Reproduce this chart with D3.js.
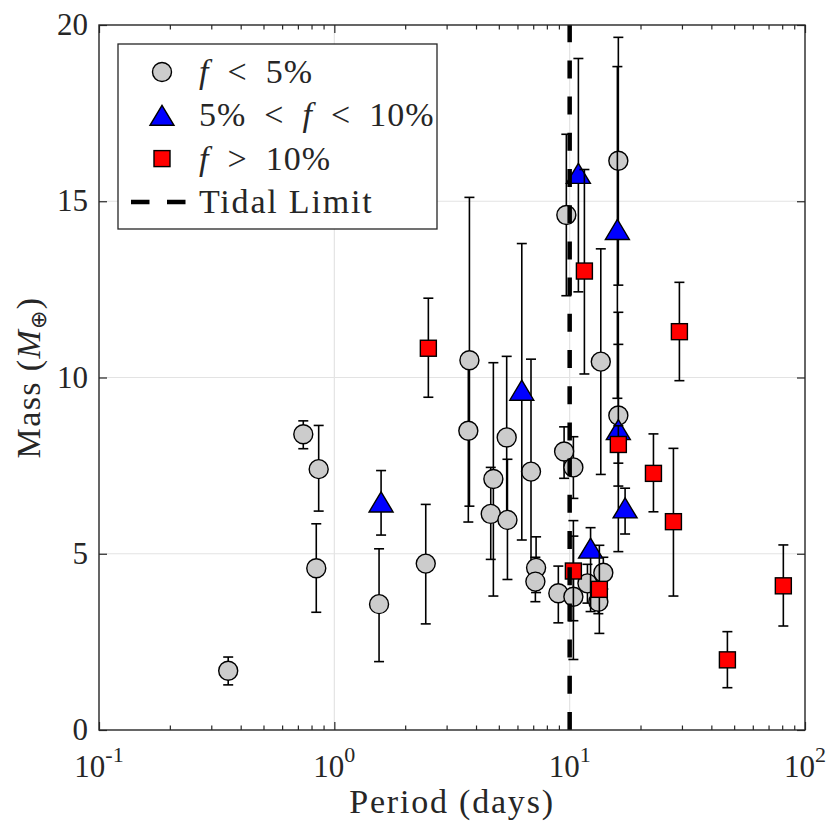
<!DOCTYPE html>
<html lang="en">
<head>
    <meta charset="UTF-8">
    <title>Mass vs Period</title>
    <script src="https://cdn.jsdelivr.net/npm/d3@7"></script>
    <style>
      body { margin: 0; background: #fff; }
    </style>
</head>
<body>
    <script>
      // f < 5%  (grey circles)
      const lowP  = [0.354, 0.738, 0.858, 0.838, 1.549, 2.446, 3.75, 3.71, 4.62, 4.74, 5.40, 5.44, 6.85, 7.20, 7.15, 8.95, 9.47, 10.37, 10.37, 9.68, 11.9, 13.24, 13.9, 13.56, 16.1, 16.1];
      const lowM  = [1.68, 8.39, 7.40, 4.59, 3.57, 4.72, 10.49, 8.49, 6.13, 7.12, 8.30, 5.96, 7.33, 4.60, 4.21, 3.88, 7.90, 7.45, 3.78, 14.61, 4.16, 3.64, 4.46, 10.45, 16.15, 8.92];
      const lowLo = [1.28, 7.98, 6.21, 3.34, 1.94, 3.01, 6.35, 5.90, 4.84, 3.80, 6.00, 4.27, 4.13, 3.90, 3.64, 3.04, 7.14, 6.57, 2.00, 12.32, 3.60, 3.30, 4.00, 7.25, 12.62, 6.92];
      const lowHi = [2.07, 8.77, 8.64, 5.85, 5.14, 6.40, 15.11, 10.6, 7.45, 10.42, 10.6, 7.68, 10.52, 5.48, 4.90, 4.65, 8.60, 8.32, 5.50, 16.9, 4.70, 4.00, 4.90, 13.65, 19.65, 10.94];

      // 5% < f < 10%  (blue triangles)
      const midP  = [1.58, 6.26, 10.89, 12.27, 15.95, 16.1, 17.2];
      const midM  = [6.47, 9.64, 15.79, 5.16, 14.2, 8.52, 6.30];
      const midLo = [5.53, 5.39, 12.43, 3.36, 9.41, 5.06, 5.56];
      const midHi = [7.36, 13.8, 19.05, 5.74, 18.82, 11.85, 6.86];

      // f > 10%  (red squares)
      const highP  = [2.509, 10.37, 11.55, 13.37, 16.1, 22.7, 27.6, 29.26, 46.8, 80.9];
      const highM  = [10.83, 4.51, 13.02, 3.99, 8.10, 7.28, 5.91, 11.30, 1.99, 4.09];
      const highLo = [9.44, 3.10, 10.1, 2.74, 7.57, 6.19, 3.80, 9.91, 1.20, 2.95];
      const highHi = [12.25, 5.94, 15.9, 5.24, 8.63, 8.40, 7.99, 12.70, 2.79, 5.25];

      const tidalLimit = 10;
      const xTicks = [0.1, 1, 10, 100];
      const xExp = ["-1", "0", "1", "2"];
      const yTicks = [0, 5, 10, 15, 20];

      const w = 830;
      const h = 830;
      const margin = {left: 99, right: 25, top: 25, bottom: 100};
      const serif = "'Liberation Serif', serif";

      const xScale = d3.scaleLog()
                       .domain([0.1, 100])
                       .range([margin.left, w - margin.right]);

      const yScale = d3.scaleLinear()
                       .domain([0, 20])
                       .range([h - margin.bottom, margin.top]);

      const svg = d3.select("body")
                    .append("svg")
                    .attr("width", w)
                    .attr("height", h)
                    .attr("font-family", serif);

      const x0 = margin.left, x1 = w - margin.right;
      const y0 = h - margin.bottom, y1 = margin.top;

      // grid
      svg.append("g")
         .selectAll("line.gx")
         .data([1, 10])
         .enter().append("line")
         .attr("x1", d => xScale(d)).attr("x2", d => xScale(d))
         .attr("y1", y1).attr("y2", y0)
         .attr("stroke", "#e3e3e3").attr("stroke-width", 1.2);

      svg.append("g")
         .selectAll("line.gy")
         .data([5, 10, 15])
         .enter().append("line")
         .attr("x1", x0).attr("x2", x1)
         .attr("y1", d => yScale(d)).attr("y2", d => yScale(d))
         .attr("stroke", "#e3e3e3").attr("stroke-width", 1.2);

      // minor log ticks
      const minor = [];
      [0.1, 1, 10].forEach(dec => { for (let k = 2; k <= 9; k++) minor.push(dec * k); });

      function styleAxis(g) {
        g.select(".domain").remove();
        g.selectAll(".tick line").attr("stroke", "#262626").attr("stroke-width", 1.2);
        g.selectAll(".tick text").remove();
      }

      svg.append("g").attr("transform", `translate(0,${y0})`)
         .call(d3.axisBottom(xScale).tickValues(xTicks).tickSize(-8)).call(styleAxis);
      svg.append("g").attr("transform", `translate(0,${y0})`)
         .call(d3.axisBottom(xScale).tickValues(minor).tickSize(-4.5)).call(styleAxis);
      svg.append("g").attr("transform", `translate(0,${y1})`)
         .call(d3.axisTop(xScale).tickValues(xTicks).tickSize(-8)).call(styleAxis);
      svg.append("g").attr("transform", `translate(0,${y1})`)
         .call(d3.axisTop(xScale).tickValues(minor).tickSize(-4.5)).call(styleAxis);
      svg.append("g").attr("transform", `translate(${x0},0)`)
         .call(d3.axisLeft(yScale).tickValues(yTicks).tickSize(-8)).call(styleAxis);
      svg.append("g").attr("transform", `translate(${x1},0)`)
         .call(d3.axisRight(yScale).tickValues(yTicks).tickSize(-8)).call(styleAxis);

      // tick labels
      const xl = svg.append("g").selectAll("text")
         .data(xTicks).enter().append("text")
         .attr("fill", "#262626")
         .attr("x", d => xScale(d))
         .attr("y", 777)
         .attr("text-anchor", "middle")
         .attr("font-size", 31);
      xl.append("tspan").text("10");
      xl.append("tspan").attr("dy", -15).attr("font-size", 22).text((d, i) => xExp[i]);

      svg.append("g").selectAll("text")
         .data(yTicks).enter().append("text")
         .attr("fill", "#262626")
         .attr("x", 88)
         .attr("y", d => yScale(d) + 10)
         .attr("text-anchor", "end")
         .attr("font-size", 31)
         .text(d => d);

      // axis labels
      svg.append("text")
         .attr("fill", "#262626")
         .attr("x", (x0 + x1) / 2)
         .attr("y", 813)
         .attr("text-anchor", "middle")
         .attr("font-size", 34)
         .attr("letter-spacing", 1.8)
         .text("Period (days)");

      const yl = svg.append("text")
         .attr("fill", "#262626")
         .attr("transform", `translate(40, ${(y0 + y1) / 2}) rotate(-90)`)
         .attr("text-anchor", "middle")
         .attr("font-size", 34)
         .attr("letter-spacing", 1.4);
      yl.append("tspan").text("Mass (");
      yl.append("tspan").attr("font-style", "italic").text("M");
      yl.append("tspan").attr("font-size", 22).attr("dy", 6).text("⊕");
      yl.append("tspan").attr("dy", -6).text(")");

      // markers
      const sym = {
        circle: (g) => g.append("circle").attr("r", 9.5).attr("fill", "#cccccc"),
        triangle: (g) => g.append("path").attr("d", "M0,-10L12,10L-12,10Z").attr("fill", "#0000ff"),
        square: (g) => g.append("rect").attr("x", -8).attr("y", -8).attr("width", 16).attr("height", 16).attr("fill", "#ff0000")
      };

      function drawGroup(P, M, lo, hi, kind) {
        const data = P.map((p, i) => ({p: p, m: M[i], lo: lo[i], hi: hi[i]}));
        const bars = svg.append("g").attr("stroke", "#000").attr("stroke-width", 1.6);
        bars.selectAll("line.v").data(data).enter().append("line")
            .attr("x1", d => xScale(d.p)).attr("x2", d => xScale(d.p))
            .attr("y1", d => yScale(d.lo)).attr("y2", d => yScale(d.hi));
        ["lo", "hi"].forEach(k => {
          bars.selectAll("line.c" + k).data(data).enter().append("line")
              .attr("x1", d => xScale(d.p) - 5).attr("x2", d => xScale(d.p) + 5)
              .attr("y1", d => yScale(d[k])).attr("y2", d => yScale(d[k]));
        });
        svg.append("g").selectAll("g").data(data).enter().append("g")
           .attr("transform", d => `translate(${xScale(d.p)},${yScale(d.m)})`)
           .each(function() { sym[kind](d3.select(this)).attr("stroke", "#000").attr("stroke-width", 1.4); });
      }

      drawGroup(lowP, lowM, lowLo, lowHi, "circle");
      drawGroup(midP, midM, midLo, midHi, "triangle");
      drawGroup(highP, highM, highLo, highHi, "square");

      // tidal limit
      svg.append("line")
         .attr("x1", xScale(tidalLimit)).attr("x2", xScale(tidalLimit))
         .attr("y1", yScale(0)).attr("y2", yScale(20))
         .attr("stroke", "#000").attr("stroke-width", 4.5)
         .attr("stroke-dasharray", "18 18.2");

      // frame
      svg.append("rect")
         .attr("x", x0).attr("y", y1)
         .attr("width", x1 - x0).attr("height", y0 - y1)
         .attr("fill", "none").attr("stroke", "#262626").attr("stroke-width", 1.4);

      // legend
      const lg = svg.append("g");
      lg.append("rect")
        .attr("x", 118).attr("y", 44).attr("width", 319).attr("height", 185)
        .attr("fill", "#fff").attr("stroke", "#262626").attr("stroke-width", 1.3);

      const sp = "\u2002";
      const legendRows = [
        {kind: "circle", parts: [["f", true], [sp + "<" + sp + "5%", false]]},
        {kind: "triangle", parts: [["5%" + sp + "<" + sp, false], ["f", true], [sp + "<" + sp + "10%", false]]},
        {kind: "square", parts: [["f", true], [sp + ">" + sp + "10%", false]]},
        {kind: "dash", parts: [["Tidal Limit", false]]}
      ];

      legendRows.forEach((r, i) => {
        const cy = 72 + i * 43.3;
        if (r.kind === "dash") {
          lg.append("line").attr("x1", 131).attr("x2", 186).attr("y1", cy).attr("y2", cy)
            .attr("stroke", "#000").attr("stroke-width", 4.5).attr("stroke-dasharray", "18.5 17.5");
        } else {
          const g = lg.append("g").attr("transform", `translate(162,${cy})`);
          sym[r.kind](g).attr("stroke", "#000").attr("stroke-width", 1.4);
        }
        const t = lg.append("text")
          .attr("fill", "#262626")
          .attr("x", 199).attr("y", cy + 11)
          .attr("font-size", 34)
          .attr("letter-spacing", i === 3 ? 1.8 : 1);
        r.parts.forEach(p => {
          t.append("tspan").attr("font-style", p[1] ? "italic" : "normal").text(p[0]);
        });
      });
    </script>
</body>
</html>
